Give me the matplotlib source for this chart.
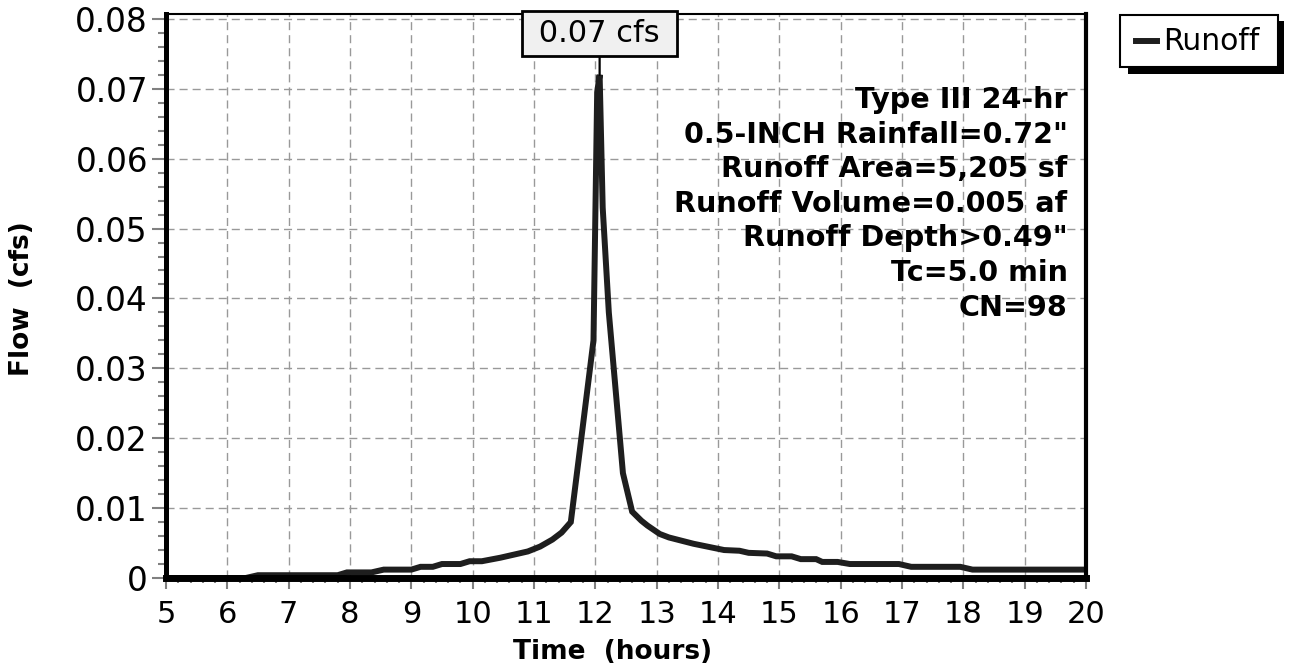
import matplotlib
matplotlib.use("Agg")
import matplotlib.pyplot as plt
from matplotlib.ticker import MultipleLocator
from matplotlib.patches import Rectangle
from matplotlib.lines import Line2D

# hydrograph (hours, cfs)
time_hr = [5.0, 6.3, 6.5, 7.8, 7.95, 8.35, 8.55, 9.0, 9.15, 9.35, 9.5, 9.8,
           9.95, 10.15, 10.45, 10.9, 11.1, 11.3, 11.45, 11.6, 11.8, 11.97,
           12.03, 12.07, 12.12, 12.22, 12.45, 12.6, 12.75, 12.85, 13.05, 13.2,
           13.6, 14.1, 14.35, 14.5, 14.8, 14.95, 15.2, 15.35, 15.6, 15.7,
           15.95, 16.15, 16.95, 17.15, 17.95, 18.15, 20.0]
flow_cfs = [0.0, 0.0, 0.0004, 0.0004, 0.0008, 0.0008, 0.0012, 0.0012, 0.0016,
            0.0016, 0.002, 0.002, 0.0024, 0.0024, 0.0029, 0.0038, 0.0045,
            0.0055, 0.0065, 0.008, 0.022, 0.034, 0.0695, 0.072, 0.053, 0.038,
            0.015, 0.0095, 0.0082, 0.0075, 0.0063, 0.0058, 0.0049, 0.004,
            0.0039, 0.0036, 0.0035, 0.0031, 0.0031, 0.0027, 0.0027, 0.0023,
            0.0023, 0.002, 0.002, 0.0016, 0.0016, 0.0012, 0.0012]

x_ticks = list(range(5, 21))
y_ticks = [0, 0.01, 0.02, 0.03, 0.04, 0.05, 0.06, 0.07, 0.08]
y_labels = ["0", "0.01", "0.02", "0.03", "0.04", "0.05", "0.06", "0.07", "0.08"]

peak_label = "0.07 cfs"
stats = ["Type III 24-hr", '0.5-INCH Rainfall=0.72"', "Runoff Area=5,205 sf",
         "Runoff Volume=0.005 af", 'Runoff Depth>0.49"', "Tc=5.0 min", "CN=98"]

plt.rcParams["font.family"] = ["DejaVu Sans"]

W, H = 1291, 668
fig = plt.figure(figsize=(W / 100, H / 100), dpi=100)
ax = fig.add_axes([166 / W, 1 - 578 / H, 920 / W, 564 / H])

ax.plot(time_hr, flow_cfs, color="#1e1e1e", lw=4.3, solid_joinstyle="miter",
        zorder=3)

ax.set_xlim(5, 20)
ax.set_ylim(0, 0.0807)
ax.set_xticks(x_ticks)
ax.set_xticklabels([str(t) for t in x_ticks])
ax.set_yticks(y_ticks)
ax.set_yticklabels(y_labels)
ax.xaxis.set_minor_locator(MultipleLocator(0.2))
ax.yaxis.set_minor_locator(MultipleLocator(0.002))

ax.grid(True, which="major", color="#999999", lw=1.0, linestyle=(0, (5.8, 3.6)))
ax.set_axisbelow(True)

ax.tick_params(axis="y", which="major", length=10, width=1.5, color="#808080",
               labelsize=23.5, pad=3)
ax.tick_params(axis="y", which="minor", length=5.8, width=1.5, color="#808080")
ax.tick_params(axis="x", which="major", length=8, width=1.5, color="#808080",
               labelsize=22, pad=8)
ax.tick_params(axis="x", which="minor", length=3.6, width=1.5, color="#808080")

ax.spines["left"].set_linewidth(3.6)
ax.spines["bottom"].set_linewidth(5)
ax.spines["right"].set_linewidth(3)
ax.spines["top"].set_linewidth(1.5)
for s in ax.spines.values():
    s.set_color("black")
    s.set_zorder(4)

# peak callout
pk = flow_cfs.index(max(flow_cfs))
ax.annotate(" " + peak_label + " ", xy=(time_hr[pk], flow_cfs[pk]),
            xytext=(time_hr[pk], 0.0779), ha="center", va="center",
            fontsize=22, annotation_clip=False, zorder=6,
            bbox=dict(boxstyle="square,pad=0.25", fc="#f0f0f0", ec="black", lw=2),
            arrowprops=dict(arrowstyle="-", color="black", lw=1.6,
                            shrinkA=0, shrinkB=0))

# runoff summary
for i, line in enumerate(stats):
    ax.text(0.980, (578 - 100 - i * 34.6) / 564, line, transform=ax.transAxes,
            ha="right", va="center", fontsize=20.6, fontweight="bold", zorder=5)

fig.text(22 / W, 1 - 299 / H, "Flow  (cfs)", rotation=90, ha="center",
         va="center", fontsize=19, fontweight="bold")
fig.text(613 / W, 1 - 652 / H, "Time  (hours)", ha="center", va="center",
         fontsize=19, fontweight="bold")

# legend box with hard shadow
fig.patches.append(Rectangle((1128 / W, 1 - 74 / H), 156 / W, 53 / H,
                             transform=fig.transFigure, fc="black", ec="none"))
fig.patches.append(Rectangle((1120 / W, 1 - 67 / H), 158 / W, 52 / H,
                             transform=fig.transFigure, fc="white", ec="black",
                             lw=1.5))
fig.lines.append(Line2D([1136 / W, 1157 / W], [1 - 41 / H, 1 - 41 / H],
                        transform=fig.transFigure, color="#1e1e1e", lw=4.3))
fig.text(1163 / W, 1 - 41 / H, "Runoff", ha="left", va="center", fontsize=21.5)

fig.savefig("out.png", dpi=100)
